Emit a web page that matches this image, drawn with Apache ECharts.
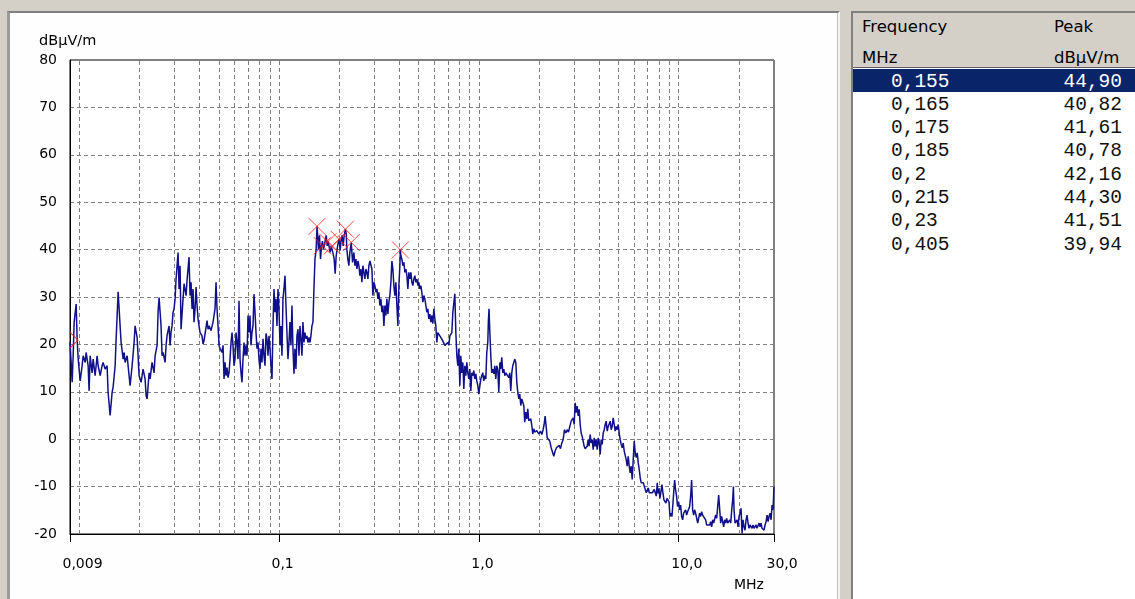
<!DOCTYPE html>
<html>
<head>
<meta charset="utf-8">
<script src="https://cdn.jsdelivr.net/npm/echarts@6.0.0/dist/echarts.min.js"></script>
<style>
  html, body { margin:0; padding:0; }
  body { width:1135px; height:599px; background:#d4d0c8; overflow:hidden; position:relative; font-family:"DejaVu Sans", sans-serif; }
  #leftPanel { position:absolute; left:7px; top:11px; width:833px; height:600px; box-sizing:border-box; background:#fefefe;
               border-top:2px solid #808080; border-left:3px solid #9a9a9a; border-right:2px solid #f4f4f4; box-shadow: inset -1px 0 0 #c0c0c0; }
  #chart { position:absolute; left:0; top:0; width:840px; height:599px; }
  #rightPanel { position:absolute; left:851px; top:11px; width:284px; height:600px; box-sizing:border-box; background:#fff;
                border-top:2px solid #808080; border-left:2px solid #808080; }
  #hdr { position:absolute; left:0; top:0; width:100%; height:55px; background:#d4d0c8; border-bottom:1px solid #606060; box-sizing:border-box; }
  .h { position:absolute; height:19px; line-height:19px; font-size:16.5px; color:#000; white-space:nowrap; }
  .row { position:absolute; left:0; width:100%; height:23.3px; line-height:23.3px; font-family:"Liberation Mono", monospace; font-size:19.5px; color:#111; }
  .row.sel { background:#0a246a; color:#fff; }
  .row .f { position:absolute; left:38px; top:1.5px; }
  .row .p { position:absolute; left:0; top:1.5px; width:269px; text-align:right; }
</style>
</head>
<body>
<div id="leftPanel"></div>
<div id="chart"></div>
<div id="rightPanel">
  <div id="hdr">
    <div class="h" style="left:9px;top:4px;">Frequency</div>
    <div class="h" style="left:201px;top:4px;">Peak</div>
    <div class="h" style="left:9px;top:35px;">MHz</div>
    <div class="h" style="left:201px;top:35px;">dBµV/m</div>
  </div>
  <div id="rows"></div>
</div>
<script>
// ---- data ----
const xTickValues = [0.009, 0.1, 1, 10, 30];
const xTickLabels = ['0,009', '0,1', '1,0', '10,0', '30,0'];
const gridFreqs = [0.01,0.02,0.03,0.04,0.05,0.06,0.07,0.08,0.09,0.1,0.2,0.3,0.4,0.5,0.6,0.7,0.8,0.9,1,2,3,4,5,6,7,8,9,10,20];
const peakFreqs = [0.155, 0.165, 0.175, 0.185, 0.2, 0.215, 0.23, 0.405];
const peakLevels = [44.90, 40.82, 41.61, 40.78, 42.16, 44.30, 41.51, 39.94];
const edgeMarker = [[0.009, 20.9]];
const spectrum = [
[0.009,20.5],[0.00912,16.2],[0.009226,12],[0.009333,17.6],[0.009441,24.7],[0.009661,28.5],[0.009772,21.2],[0.009886,17],[0.01012,12.3],[0.01035,15.5],[0.01047,17.6],[0.01072,16.2],[0.01084,18.3],[0.01109,15.5],[0.01122,10.2],[0.01135,17.6],[0.01161,14],[0.01175,16.9],[0.01202,13.4],[0.0123,17.6],[0.01245,15.5],[0.01274,13.4],[0.01303,15.5],[0.01318,16.2],[0.01349,14.8],[0.0138,15.5],[0.01396,9.9],[0.01429,5],[0.01462,9.9],[0.01479,11],[0.01514,15.5],[0.01531,21.1],[0.01549,26],[0.01567,31.1],[0.01603,23.9],[0.01622,20.4],[0.0166,16.9],[0.01679,18.3],[0.01698,16.2],[0.01738,17.6],[0.01778,13.4],[0.01799,11.3],[0.01841,15.5],[0.01884,20.4],[0.01905,23.9],[0.0195,21.5],[0.01972,17.6],[0.01995,13.4],[0.02042,12],[0.02089,14.8],[0.02138,12.7],[0.02163,9.2],[0.02188,8.5],[0.02239,14],[0.02265,12.7],[0.02317,16.2],[0.02371,14],[0.02399,17.6],[0.02455,19.8],[0.02483,26.8],[0.02512,29.9],[0.0257,23.9],[0.026,17.6],[0.0263,18.3],[0.02692,16.2],[0.02723,19.8],[0.02754,21.9],[0.02818,23.9],[0.02851,19.8],[0.02884,22.6],[0.02917,23.9],[0.02951,26.8],[0.02985,27.5],[0.0302,29.6],[0.03055,33.8],[0.03126,39.4],[0.03162,31.7],[0.03199,36.6],[0.03236,23.2],[0.03311,29.6],[0.0335,32.8],
[0.03428,30.3],[0.03467,33.5],[0.03508,33.8],[0.03548,38.4],[0.03589,30.3],[0.03631,33.1],[0.03673,27.5],[0.03715,31.7],[0.03758,24.7],[0.03802,27.5],[0.03846,32.1],[0.0389,28.2],[0.03936,25.4],[0.03981,23.9],[0.04027,22.5],[0.04121,21.8],[0.04169,20.1],[0.04217,20.8],[0.04266,20.4],[0.04365,25],[0.04416,23.2],[0.04467,23.9],[0.04571,22.9],[0.04624,23.2],[0.04677,24.7],[0.04786,27.5],[0.04842,33.1],[0.04898,27.5],[0.04955,23.9],[0.05012,19.8],[0.0507,19.1],[0.05188,18.3],[0.05248,19.8],[0.05309,12.7],[0.0537,16.2],[0.05433,13.4],[0.05495,15.1],[0.05559,13],[0.05623,14],[0.05689,16.9],[0.05754,20.4],[0.05821,22.5],[0.05888,19.8],[0.05957,15.5],[0.06026,16.9],[0.06095,22.5],[0.06166,20.4],[0.06237,16.9],[0.0631,29.2],[0.06383,16.9],[0.06457,14],[0.06531,12],[0.06607,16.9],[0.06683,20.4],[0.06761,17.6],[0.06839,19.8],[0.06918,17.6],[0.06998,26.1],[0.07079,22.5],[0.07161,26.1],[0.07244,19.8],[0.07328,22.5],[0.07413,23.9],[0.07499,30.6],[0.07586,26.8],[0.07674,22.5],[0.07762,19.1],[0.07852,20.4],[0.07943,16.9],[0.08035,14.8],[0.08128,19.1],[0.08222,16.2],[0.08318,21.2],[0.08414,17.6],[0.08511,15.5],[0.0861,22.3],[0.0871,21.2],[0.0881,17.6],[0.08913,21.8],[0.09016,19.1],[0.0912,15.5],[0.09226,12.7],[0.09333,23.9],[0.09441,31.7],[0.0955,26.8],[0.09661,29.6],[0.09772,23.9],[0.09886,31.7],[0.1,27.5],[0.1012,19.8],[0.1023,23.9],[0.1035,17.6],[0.1047,29.6],[0.1059,31.7],[0.1072,34.5],[0.1084,28.2],[0.1096,22.5],[0.1109,16.9],[0.1122,20.4],[0.1135,24.7],[0.1148,19.8],[0.1161,28.2],[0.1175,19.1],[0.1189,13.8],[0.1202,19.1],[0.1216,14.8],[0.123,21.8],[0.1245,23.2],[0.1259,17.6],[0.1274,23.9],[0.1288,21.2],[0.1303,17.6],[0.1318,24.7],
[0.1334,20.4],[0.1349,22.5],[0.1365,21.2],[0.138,21.8],[0.1396,20.4],[0.1413,21.5],[0.1429,20.4],[0.1445,21.8],[0.1462,23.9],[0.1479,24.7],[0.1496,31.7],[0.1514,38],[0.1535,40.1],[0.155,44.9],[0.1577,40.1],[0.1595,43],[0.1614,38],[0.1633,40.8],[0.165,41.8],[0.1671,40.1],[0.1697,41.5],[0.1723,43],[0.1743,40.8],[0.1763,41.8],[0.1784,40.5],[0.1804,39.4],[0.1825,40.8],[0.1846,40.8],[0.1867,39.1],[0.1889,38],[0.1911,34.9],[0.1933,38.7],[0.1955,40.1],[0.1978,41.5],[0.2001,42.2],[0.2024,39.8],[0.2048,42.2],[0.2071,43],[0.2095,40.8],[0.212,43],[0.215,44.3],[0.2172,43.2],[0.2186,40.1],[0.2211,38],[0.2237,36.6],[0.2263,39.4],[0.23,41.5],[0.2334,37.3],[0.2371,39.4],[0.2399,36.6],[0.2427,38],[0.2455,35.9],[0.2483,37.6],[0.2512,36.6],[0.2541,34.5],[0.257,35.9],[0.26,33.1],[0.263,36.6],[0.2661,35.2],[0.2692,33.8],[0.2723,35.9],[0.2754,35.2],[0.2786,33.8],[0.2818,36.6],[0.2851,37.6],[0.2884,37.3],[0.2917,35.9],[0.2951,30.3],[0.2985,33.1],[0.302,32.4],[0.3055,31],[0.309,31.7],[0.3126,29.6],[0.3162,31],[0.3199,28.2],[0.3236,29.6],[0.3273,26.8],[0.3311,28.2],[0.335,23.9],[0.3388,28.2],[0.3428,26.1],[0.3467,29.6],[0.3508,26.4],[0.3548,28.9],[0.3589,30.3],[0.3631,33.1],[0.3673,37.6],[0.3715,35.9],[0.3758,32.4],[0.3802,30.3],[0.3846,33.1],[0.389,28.2],[0.3936,23.9],[0.3981,32.4],[0.4027,36.6],[0.405,39.94],[0.4074,38.7],[0.4121,38],[0.4169,36.6],[0.4217,37.3],[0.4266,35.2],[0.4315,35.9],[0.4365,34.5],[0.4416,31.7],[0.4467,35.2],[0.4519,33.8],[0.4571,35.2],[0.4624,33.1],[0.4677,32.4],[0.4732,33.8],[0.4786,34.5],[0.4842,33.1],[0.4898,33.8],[0.4955,32.4],[0.5012,33.1],[0.507,31.7],[0.5129,32.4],
[0.5188,31],[0.5248,28.9],[0.5309,30.3],[0.537,29.6],[0.5433,28.2],[0.5495,26.8],[0.5559,27.5],[0.5623,25.4],[0.5689,26.4],[0.5754,24.7],[0.5821,26.1],[0.5888,24.4],[0.5957,27.5],[0.6026,25.4],[0.6095,23.9],[0.6166,20.4],[0.6237,22.5],[0.6383,21.8],[0.6457,21.8],[0.6531,21.1],[0.6683,21.1],[0.6761,19.8],[0.6839,19.4],[0.6998,20.4],[0.7079,19.8],[0.7161,21.8],[0.7328,22.5],[0.7413,26.8],[0.7586,30.7],[0.7674,22.5],[0.7762,17.6],[0.7852,15.5],[0.7943,19.1],[0.8035,11.3],[0.8128,17.6],[0.8222,14],[0.8318,16.2],[0.8414,10.6],[0.8511,15.5],[0.861,13.4],[0.871,16.2],[0.881,14],[0.8913,12.7],[0.9016,14.8],[0.912,10.2],[0.9226,14],[0.9333,13.4],[0.9441,14.5],[0.955,12.7],[0.9661,13.8],[0.9772,12.3],[0.9886,11.3],[1.0,9.5],[1.012,11.3],[1.023,12.7],[1.035,13.4],[1.047,14],[1.059,12.3],[1.072,13.4],[1.084,12.7],[1.096,18.3],[1.109,20.4],[1.116,24.7],[1.125,27.5],[1.134,23.2],[1.148,17.6],[1.161,14],[1.175,14.8],[1.189,13.8],[1.202,15.5],[1.216,12.7],[1.23,15.5],[1.245,14.5],[1.259,9.9],[1.274,16.2],[1.288,14.8],[1.303,17.3],[1.318,14],[1.334,14.8],[1.349,13.4],[1.365,14],[1.38,13.8],[1.396,14],[1.413,13],[1.429,14],[1.445,10.2],[1.462,14],[1.479,15.5],[1.496,16.2],[1.514,16.9],[1.531,16.2],[1.549,12],[1.567,9.9],[1.585,8.5],[1.603,9.5],[1.622,7.1],[1.641,8.5],[1.66,8.5],[1.679,7.1],[1.698,3.6],[1.718,5.7],[1.738,4.3],[1.758,6.4],[1.778,3.9],[1.799,3.6],[1.82,4.3],[1.841,2.9],[1.862,1.1],[1.884,2.2],[1.905,1.5],[1.928,1.5],[1.95,1.8],[1.972,1.5],[1.995,1.1],
[2.035,1.7],[2.066,1],[2.098,2],[2.122,3.1],[2.147,4.9],[2.173,2.7],[2.198,0.3],[2.231,-0.1],[2.266,-0.4],[2.301,-1.8],[2.336,-2.2],[2.373,-3.6],[2.409,-2.5],[2.447,-1.8],[2.485,-2.2],[2.523,-1.3],[2.562,-2],[2.602,-0.8],[2.642,-0.1],[2.684,2],[2.725,1.3],[2.768,2],[2.81,1.5],[2.854,2.7],[2.898,3.8],[2.931,3.5],[2.966,4.5],[3.0,3.1],[3.035,7.7],[3.069,5.6],[3.105,7],[3.142,4.9],[3.178,6.3],[3.215,3.1],[3.252,1.3],[3.29,0.6],[3.328,-0.4],[3.367,-1.5],[3.406,-2],[3.445,-2.2],[3.485,-1.5],[3.525,-0.1],[3.566,-1.5],[3.607,1],[3.65,-0.8],[3.692,-0.1],[3.735,-2.2],[3.778,0.3],[3.822,-1.5],[3.866,-0.1],[3.911,-2.2],[3.957,0.3],[4.003,-0.8],[4.049,-3.2],[4.096,-0.1],[4.144,-1.1],[4.193,1.3],[4.241,2],[4.29,3.1],[4.34,3.8],[4.39,1.7],[4.441,2.7],[4.493,2.4],[4.545,3.8],[4.597,2],[4.65,2.7],[4.705,4.5],[4.759,3.1],[4.814,1.7],[4.87,2.7],[4.927,2],[4.984,3.1],[5.041,1.3],[5.1,-0.1],[5.159,-1.1],[5.218,-1.8],[5.28,-0.8],[5.341,-2.5],[5.403,-2.9],[5.465,-4.3],[5.528,-5.7],[5.592,-3.6],[5.657,-5.7],[5.722,-7.1],[5.789,-5.7],[5.856,-8.5],[5.925,-4.3],[5.994,-0.4],[6.064,-2.9],[6.134,-3.9],[6.205,-2.9],[6.277,-5],[6.35,-6.4],[6.424,-8.2],[6.498,-9.2],[6.574,-9.6],[6.651,-9.2],[6.728,-9.9],[6.806,-9.6],[6.884,-11.3],[6.964,-11],[7.045,-10.3],[7.127,-11.3],[7.21,-11],[7.293,-11],[7.377,-11.3],[7.465,-11.3],[7.55,-10.6],[7.637,-11.3],[7.727,-12],[7.815,-9.2],
[7.875,-11.4],[7.966,-10.4],[8.058,-12.5],[8.151,-11.1],[8.25,-9.6],[8.345,-11.4],[8.442,-12.8],[8.54,-12.5],[8.64,-13.5],[8.74,-12.5],[8.842,-12.8],[8.945,-13.2],[9.049,-16.3],[9.15,-15.6],[9.257,-16.3],[9.365,-13.5],[9.474,-10.4],[9.546,-8.6],[9.656,-10.7],[9.768,-12.1],[9.881,-14.2],[10.0,-13.2],[10.11,-14.9],[10.23,-13.9],[10.35,-16.3],[10.47,-17],[10.59,-15.6],[10.71,-16],[10.84,-14.9],[10.96,-16],[11.09,-15.3],[11.22,-14.9],[11.35,-14.2],[11.48,-12.1],[11.61,-8.6],[11.75,-14.9],[11.89,-16],[12.02,-14.9],[12.16,-15.6],[12.3,-15.3],[12.45,-17.7],[12.59,-16.7],[12.74,-15.6],[12.89,-16.3],[13.03,-15.3],[13.19,-16],[13.34,-16.3],[13.49,-15.6],[13.65,-17],[13.81,-18.1],[13.97,-18.5],[14.13,-17.7],[14.3,-18.1],[14.46,-17.4],[14.63,-18.5],[14.8,-17],[14.97,-17.7],[15.15,-17.4],[15.32,-16],[15.5,-16.7],[15.68,-14.2],[15.86,-11.8],[16.05,-14.9],[16.23,-17.7],[16.42,-16.3],[16.61,-17.4],[16.8,-18.5],[17.0,-17],[17.19,-17.7],[17.39,-16.7],[17.6,-17.7],[17.8,-18.1],[18.01,-17],[18.22,-17.7],[18.43,-14.9],[18.64,-12.8],[18.79,-10],[18.93,-14.9],[19.15,-17.7],[19.37,-18.1],[19.6,-17],[19.82,-18.5],[20.05,-16.3],[20.28,-15.6],[20.52,-14.6],[20.76,-19.9],[21.0,-17],[21.24,-18.5],[21.49,-19.2],[21.74,-17],[21.99,-16],[22.24,-17.7],[22.5,-18.8],[22.76,-18.1],[23.03,-18.5],[23.29,-18.8],[23.56,-18.1],[23.84,-18.8],[24.11,-18.5],[24.39,-18.1],[24.68,-18.8],[24.96,-18.5],[25.25,-17.7],[25.54,-18.5],[25.84,-17.7],[26.14,-18.8],[26.45,-18.5],[26.75,-19.2],[27.06,-18.1],[27.38,-17.4],[27.7,-16],[28.02,-17.4],[28.34,-16.3],[28.67,-15.6],[29.0,-17],[29.34,-13.9],[29.68,-14.9],[30.0,-10]
];

// ---- table ----
const fmtComma = s => String(s).replace('.', ',');
const rowsEl = document.getElementById('rows');
peakFreqs.forEach((f, i) => {
  const r = document.createElement('div');
  r.className = 'row' + (i === 0 ? ' sel' : '');
  r.style.top = (56 + i * 23.3) + 'px';
  r.innerHTML = '<span class="f">' + fmtComma(f) + '</span><span class="p">' + fmtComma(peakLevels[i].toFixed(2)) + '</span>';
  rowsEl.appendChild(r);
});

// ---- chart ----
const chart = echarts.init(document.getElementById('chart'), null, { renderer: 'canvas' });
function fmtX(v) {
  let best = 0, bd = Infinity;
  xTickValues.forEach((t, i) => { const d = Math.abs(Math.log10(v) - Math.log10(t)); if (d < bd) { bd = d; best = i; } });
  return '{t|' + xTickLabels[best] + '}';
}
const crossPath = 'path://M0,0L16,16M16,0L0,16';
const option = {
  animation: false,
  textStyle: { fontFamily: 'DejaVu Sans' },
  grid: { left: 70, top: 60, width: 704, height: 474, show: true, backgroundColor: '#ffffff', borderColor: '#000000', borderWidth: 1 },
  xAxis: {
    type: 'log', logBase: 10, min: 0.009, max: 30,
    axisLine: { show: true, onZero: false, lineStyle: { color: '#000', width: 1 } },
    axisTick: { show: true, customValues: xTickValues, length: 8, lineStyle: { color: '#000' } },
    axisLabel: { show: true, customValues: xTickValues, margin: 23, formatter: fmtX,
      rich: { t: { width: 15, align: 'left', fontSize: 14, color: '#000', fontFamily: 'DejaVu Sans' } } },
    splitLine: { show: false }
  },
  yAxis: {
    type: 'value', min: -20, max: 80, interval: 10,
    axisLine: { show: true, lineStyle: { color: '#000', width: 1 } },
    axisTick: { show: false },
    axisLabel: { margin: 13, fontSize: 14, color: '#000', fontFamily: 'DejaVu Sans' },
    splitLine: { show: true, lineStyle: { color: '#808080', width: 1, type: [4, 3] } }
  },
  graphic: [
    { type: 'text', x: 39, y: 41, style: { text: 'dBµV/m', fontSize: 14.5, fontFamily: 'DejaVu Sans', fill: '#000', align: 'left', verticalAlign: 'middle' } },
    { type: 'text', x: 734, y: 585, style: { text: 'MHz', fontSize: 14, fontFamily: 'DejaVu Sans', fill: '#000', align: 'left', verticalAlign: 'middle' } }
  ],
  series: [
    {
      type: 'line', name: 'grid', data: [], z: 1, silent: true,
      markLine: {
        silent: true, symbol: ['none', 'none'], animation: false, z: 1,
        label: { show: false }, emphasis: { disabled: true },
        lineStyle: { color: '#808080', width: 1, type: [4, 3] },
        data: gridFreqs.map(f => ({ xAxis: f }))
      }
    },
    {
      type: 'line', name: 'Peak', data: spectrum, z: 10, symbol: 'none', showSymbol: false, clip: true, silent: true,
      lineStyle: { color: '#10108a', width: 1.5 }
    },
    {
      type: 'scatter', name: 'markers', data: peakFreqs.map((f, i) => [f, peakLevels[i]]), z: 12, silent: true,
      symbol: crossPath, symbolSize: 17,
      itemStyle: { color: 'none', borderColor: '#ff1a1a', borderWidth: 1 }
    },
    {
      type: 'scatter', name: 'edge', data: edgeMarker, z: 12, silent: true, clip: false,
      symbol: 'path://M0,0L8,8L0,16', symbolSize: [8, 16], symbolOffset: [4, 0],
      itemStyle: { color: 'none', borderColor: '#ff1a1a', borderWidth: 1 }
    }
  ]
};
chart.setOption(option);
</script>
</body>
</html>
